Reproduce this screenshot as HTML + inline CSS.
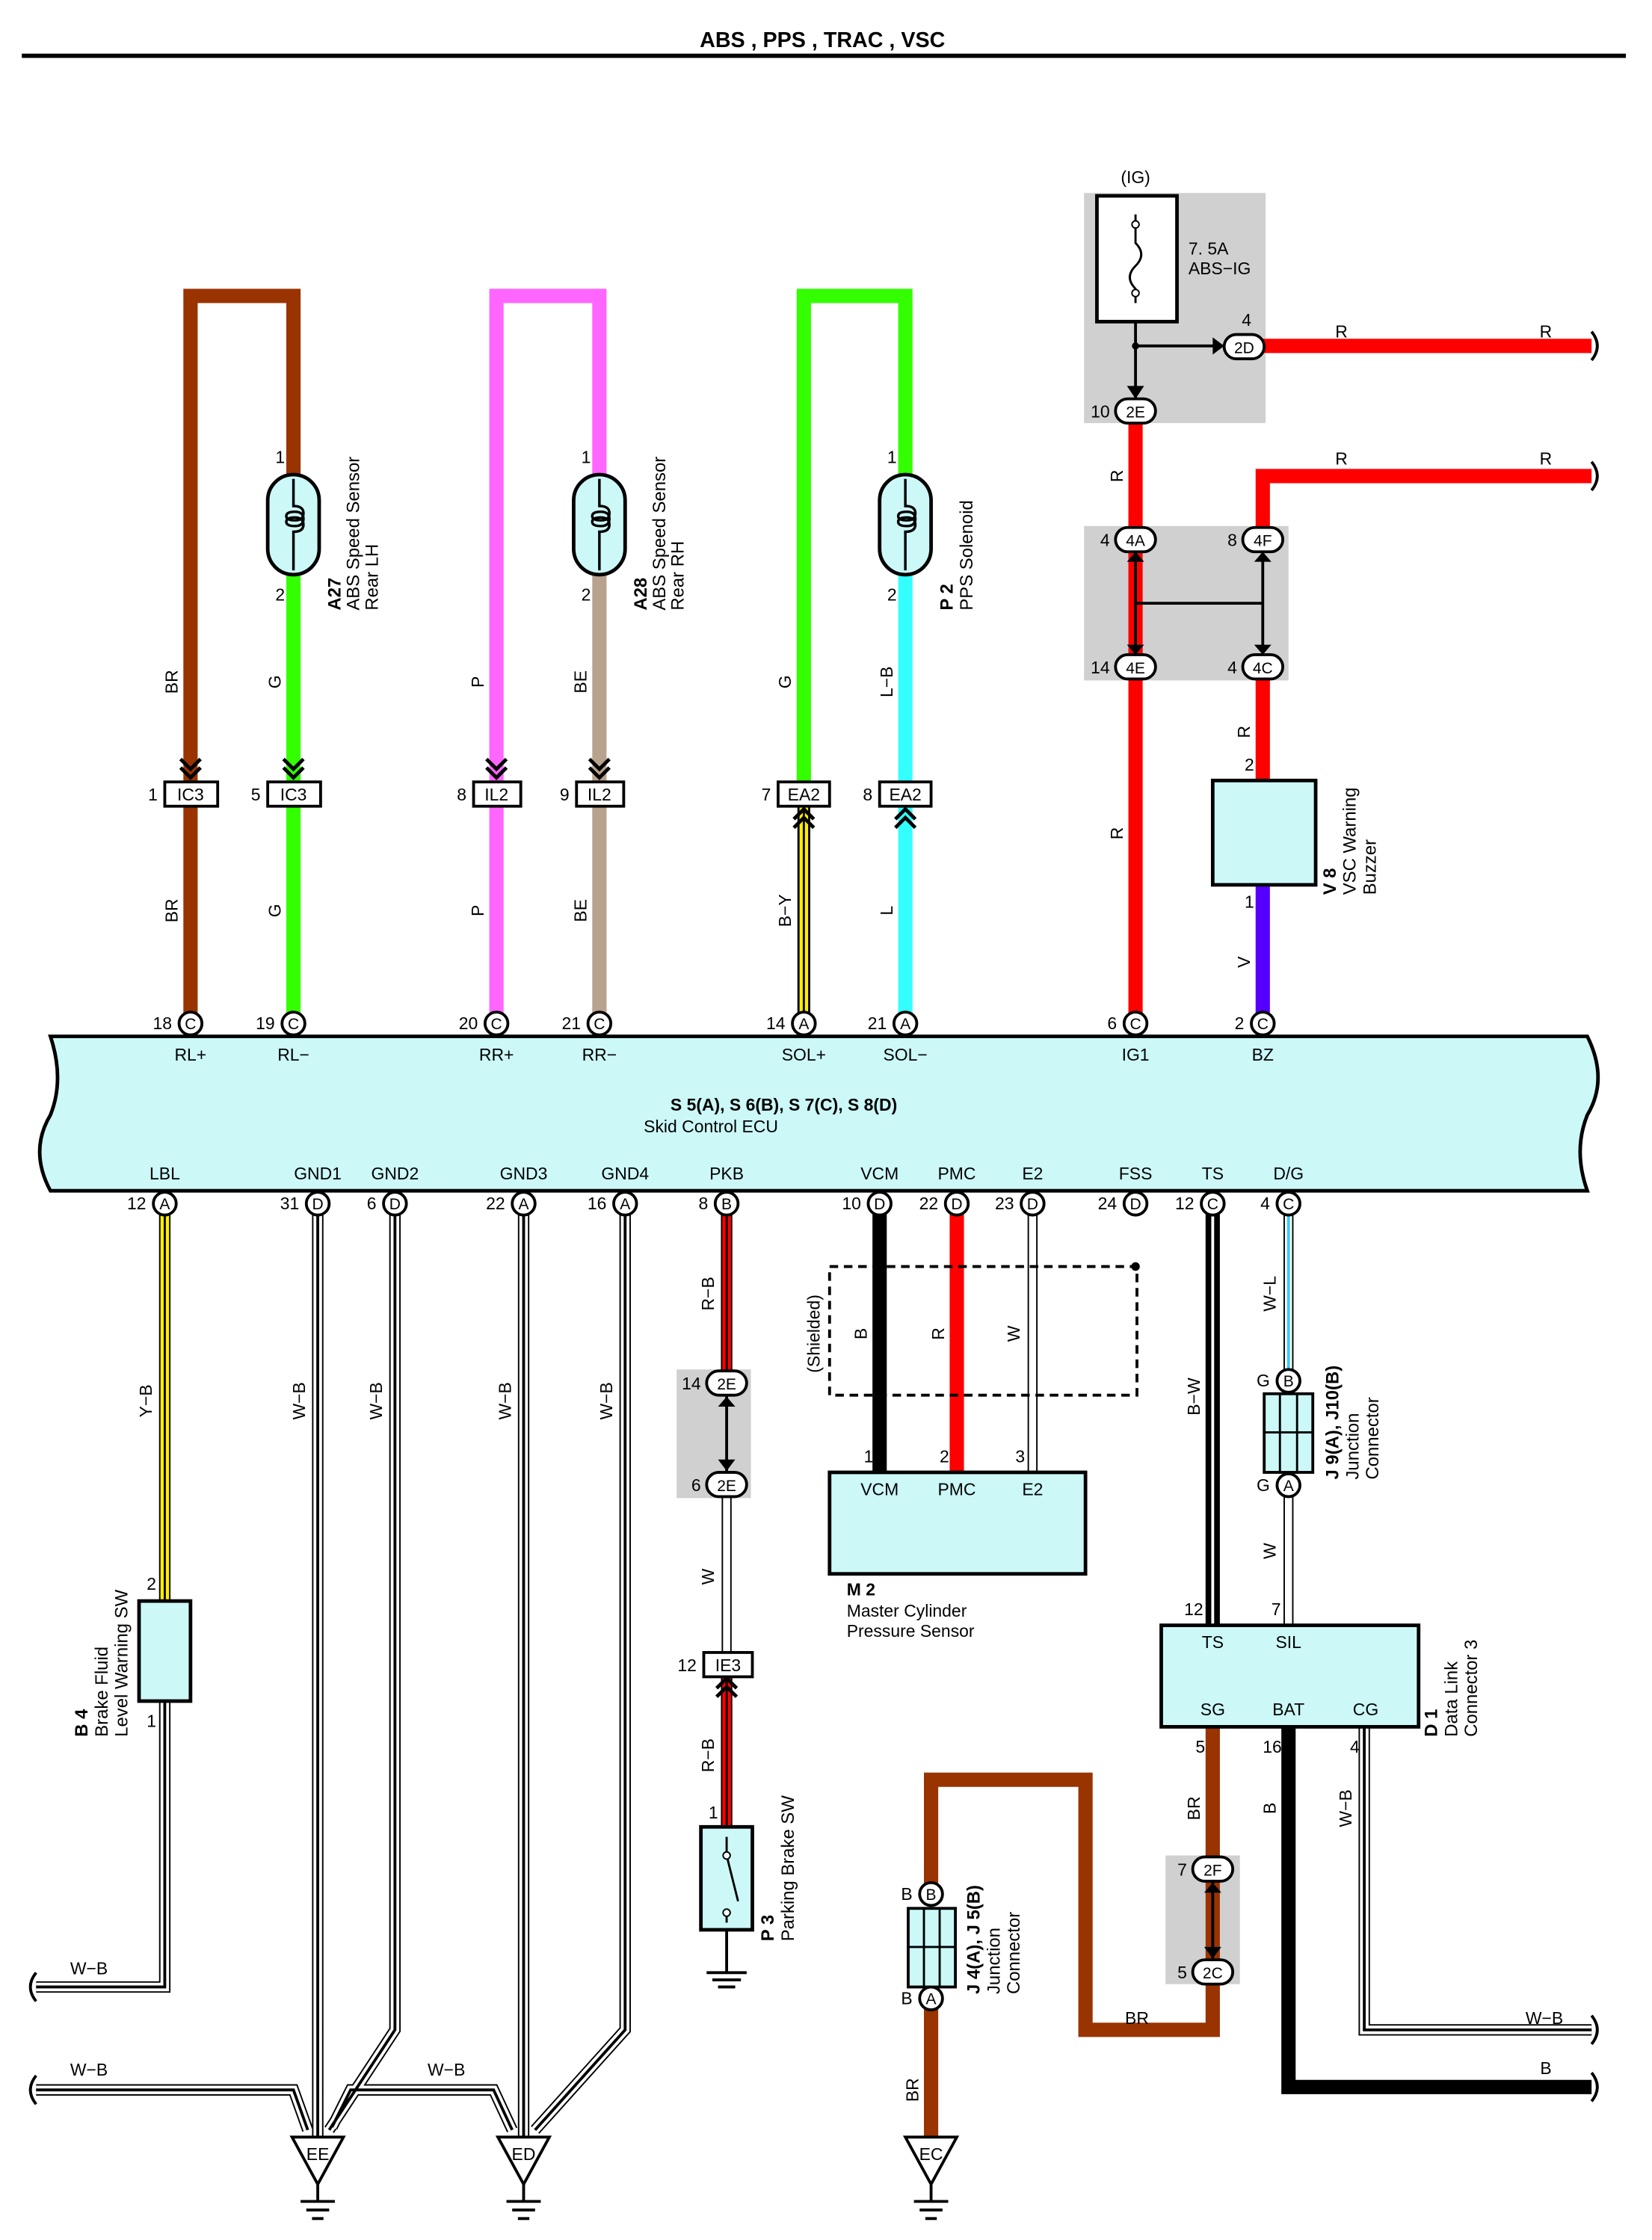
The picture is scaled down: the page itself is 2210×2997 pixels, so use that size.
<!DOCTYPE html>
<html><head><meta charset="utf-8"><style>html,body{margin:0;padding:0;background:#fff}svg{display:block}text{font-family:"Liberation Sans",sans-serif;fill:#000}</style></head>
<body>
<svg width="2210" height="2997" viewBox="0 0 1155 1567" xmlns="http://www.w3.org/2000/svg">
<defs>
<g id="chev"><path d="M-7,-14 L0,-7 L7,-14 M-7,-8 L0,-1 L7,-8" fill="none" stroke="#000" stroke-width="2.5"/></g>
<g id="chevu"><path d="M-7,14 L0,7 L7,14 M-7,8 L0,1 L7,8" fill="none" stroke="#000" stroke-width="2.5"/></g>
<path id="coil" d="M0,-32 V-13 q7,0 7,5 q0,5 -6,5 q-6,0 -6,-3 q0,-3 6,-3 q6,0 6,5 q0,5 -6,5 q-6,0 -6,-3 q0,-3 6,-3 q6,0 6,5 q0,5 -7,5 V32" fill="none" stroke="#000" stroke-width="1.8"/>
</defs>
<text x="575" y="33" font-size="15" font-weight="bold" text-anchor="middle">ABS , PPS , TRAC , VSC</text>
<line x1="15" y1="39" x2="1137" y2="39" stroke="#000" stroke-width="3"/>

<!-- gray boxes -->
<rect x="758" y="135" width="127" height="161" fill="#d0d0d0"/>
<rect x="758" y="368" width="143" height="108" fill="#d0d0d0"/>
<rect x="473" y="958" width="52" height="90" fill="#d0d0d0"/>
<rect x="815" y="1298" width="52" height="90" fill="#d0d0d0"/>

<g fill="none" stroke-linejoin="miter">
<!-- top wires -->
<path d="M133,716 V207 H205 V335" stroke="#993300" stroke-width="10"/>
<path d="M205,400 V716" stroke="#33ff00" stroke-width="10"/>
<path d="M347,716 V207 H419 V335" stroke="#ff66ff" stroke-width="10"/>
<path d="M419,400 V716" stroke="#b8a28e" stroke-width="10"/>
<path d="M562,555 V207 H633 V335" stroke="#33ff00" stroke-width="10"/>
<path d="M633,400 V716" stroke="#33ffff" stroke-width="10"/>
<path d="M562,555 V716" stroke="#000" stroke-width="9"/>
<path d="M562,555 V716" stroke="#ffee00" stroke-width="6"/>
<path d="M562,555 V716" stroke="#000" stroke-width="1.5"/>
<path d="M794,287 V716" stroke="#ff0000" stroke-width="10"/>
<path d="M880,242 H1113" stroke="#ff0000" stroke-width="10"/>
<path d="M883,377 V333 H1113" stroke="#ff0000" stroke-width="10"/>
<path d="M883,466 V546" stroke="#ff0000" stroke-width="10"/>
<path d="M883,619 V716" stroke="#5500ff" stroke-width="10"/>
<path d="M794,225 V242 H855" stroke="#000" stroke-width="2"/>
<path d="M794,242 V280" stroke="#000" stroke-width="2"/>
<path d="M794,390 V455 M883,390 V455 M794,422 H883" stroke="#000" stroke-width="2"/>

<!-- bottom wires: W-B style = black outline, white, black centre -->
<g id="wb">
<path d="M115,1190 V1390 H25 M222,842 V1495 M276,842 V1420 L230,1490 M25,1462 H205 L215,1490 M232,1488 L245,1462 H345 L358,1490 M366,842 V1495 M437,842 V1420 L374,1490 M954,1208 V1420 H1113" stroke="#000" stroke-width="8"/>
<path d="M115,1190 V1390 H25 M222,842 V1495 M276,842 V1420 L230,1490 M25,1462 H205 L215,1490 M232,1488 L245,1462 H345 L358,1490 M366,842 V1495 M437,842 V1420 L374,1490 M954,1208 V1420 H1113" stroke="#fff" stroke-width="6"/>
<path d="M115,1190 V1390 H25 M222,842 V1495 M276,842 V1420 L230,1490 M25,1462 H205 L215,1490 M232,1488 L245,1462 H345 L358,1490 M366,842 V1495 M437,842 V1420 L374,1490 M954,1208 V1420 H1113" stroke="#000" stroke-width="2"/>
</g>
<path d="M115,842 V1120" stroke="#000" stroke-width="8"/><path d="M115,842 V1120" stroke="#ffee00" stroke-width="6"/><path d="M115,842 V1120" stroke="#000" stroke-width="1.5"/>
<path d="M508,842 V967 M508,1164 V1280" stroke="#000" stroke-width="8"/><path d="M508,842 V967 M508,1164 V1280" stroke="#ff0000" stroke-width="6"/><path d="M508,842 V967 M508,1164 V1280" stroke="#000" stroke-width="1.5"/>
<path d="M508,975 V1030" stroke="#000" stroke-width="2"/>
<path d="M508,1038 V1164 M722,842 V1030 M901,1039 V1137" stroke="#000" stroke-width="7"/><path d="M508,1038 V1164 M722,842 V1030 M901,1039 V1137" stroke="#fff" stroke-width="5"/>
<path d="M508,1350 V1380" stroke="#000" stroke-width="2"/>
<path d="M615,842 V1030" stroke="#000" stroke-width="10"/>
<path d="M669,842 V1030" stroke="#ff0000" stroke-width="10"/>
<rect x="580" y="886" width="215" height="90" stroke="#000" stroke-width="2" stroke-dasharray="6,4"/>
<path d="M848,842 V1137" stroke="#000" stroke-width="10"/><path d="M848,842 V1137" stroke="#fff" stroke-width="2"/>
<path d="M901,842 V966" stroke="#000" stroke-width="7"/><path d="M901,842 V966" stroke="#fff" stroke-width="5"/><path d="M901,842 V966" stroke="#33ccff" stroke-width="2"/>
<path d="M848,1208 V1420 H759 V1245 H651 V1325" stroke="#993300" stroke-width="10"/>
<path d="M651,1398 V1495" stroke="#993300" stroke-width="10"/>
<path d="M848,1315 V1370" stroke="#000" stroke-width="2"/>
<path d="M901,1208 V1460 H1113" stroke="#000" stroke-width="10"/>
</g>

<!-- wire end curls -->
<g fill="none" stroke="#000" stroke-width="2">
<path d="M1113,232 q8,10 0,20 M1113,323 q8,10 0,20 M1113,1410 q8,10 0,20 M1113,1450 q8,10 0,20 M25,1380 q-8,10 0,20 M25,1452 q-8,10 0,20"/>
</g>

<!-- ECU -->
<path d="M35,725 H1110 Q1125,755 1110,780 Q1100,805 1110,833 H35 Q20,805 35,780 Q45,755 35,725 Z" fill="#ccf8f8" stroke="#000" stroke-width="2.5"/>
<text x="548" y="777" font-size="12" font-weight="bold" text-anchor="middle">S 5(A), S 6(B), S 7(C), S 8(D)</text>
<text x="450" y="792" font-size="12">Skid Control ECU</text>
<g font-size="12" text-anchor="middle">
<text x="133" y="742">RL+</text><text x="205" y="742">RL−</text><text x="347" y="742">RR+</text><text x="419" y="742">RR−</text>
<text x="562" y="742">SOL+</text><text x="633" y="742">SOL−</text><text x="794" y="742">IG1</text><text x="883" y="742">BZ</text>
<text x="115" y="825">LBL</text><text x="222" y="825">GND1</text><text x="276" y="825">GND2</text><text x="366" y="825">GND3</text><text x="437" y="825">GND4</text>
<text x="508" y="825">PKB</text><text x="615" y="825">VCM</text><text x="669" y="825">PMC</text><text x="722" y="825">E2</text><text x="794" y="825">FSS</text><text x="848" y="825">TS</text><text x="901" y="825">D/G</text>
</g>

<!-- pins -->
<g stroke="#000" stroke-width="2" fill="#fff">
<circle cx="133" cy="716" r="8"/><circle cx="205" cy="716" r="8"/><circle cx="347" cy="716" r="8"/><circle cx="419" cy="716" r="8"/>
<circle cx="562" cy="716" r="8"/><circle cx="633" cy="716" r="8"/><circle cx="794" cy="716" r="8"/><circle cx="883" cy="716" r="8"/>
<circle cx="115" cy="842" r="8"/><circle cx="222" cy="842" r="8"/><circle cx="276" cy="842" r="8"/><circle cx="366" cy="842" r="8"/><circle cx="437" cy="842" r="8"/>
<circle cx="508" cy="842" r="8"/><circle cx="615" cy="842" r="8"/><circle cx="669" cy="842" r="8"/><circle cx="722" cy="842" r="8"/><circle cx="794" cy="842" r="8"/><circle cx="848" cy="842" r="8"/><circle cx="901" cy="842" r="8"/>
<circle cx="901" cy="966" r="8"/><circle cx="901" cy="1039" r="8"/><circle cx="651" cy="1325" r="8"/><circle cx="651" cy="1398" r="8"/>
</g>
<g font-size="11" text-anchor="middle">
<text x="133" y="720">C</text><text x="205" y="720">C</text><text x="347" y="720">C</text><text x="419" y="720">C</text><text x="562" y="720">A</text><text x="633" y="720">A</text><text x="794" y="720">C</text><text x="883" y="720">C</text>
<text x="115" y="846">A</text><text x="222" y="846">D</text><text x="276" y="846">D</text><text x="366" y="846">A</text><text x="437" y="846">A</text><text x="508" y="846">B</text><text x="615" y="846">D</text><text x="669" y="846">D</text><text x="722" y="846">D</text><text x="794" y="846">D</text><text x="848" y="846">C</text><text x="901" y="846">C</text>
<text x="901" y="970">B</text><text x="901" y="1043">A</text><text x="651" y="1329">B</text><text x="651" y="1402">A</text>
</g>
<g font-size="12" text-anchor="end">
<text x="120" y="720">18</text><text x="192" y="720">19</text><text x="334" y="720">20</text><text x="406" y="720">21</text><text x="549" y="720">14</text><text x="620" y="720">21</text><text x="781" y="720">6</text><text x="870" y="720">2</text>
<text x="102" y="846">12</text><text x="209" y="846">31</text><text x="263" y="846">6</text><text x="353" y="846">22</text><text x="424" y="846">16</text><text x="495" y="846">8</text><text x="602" y="846">10</text><text x="656" y="846">22</text><text x="709" y="846">23</text><text x="781" y="846">24</text><text x="835" y="846">12</text><text x="888" y="846">4</text>
<text x="888" y="970">G</text><text x="888" y="1043">G</text><text x="638" y="1329">B</text><text x="638" y="1402">B</text>
</g>

<!-- sensors -->
<g stroke="#000" stroke-width="2.5" fill="#ccf8f8">
<rect x="187" y="332" width="36" height="70" rx="18"/><rect x="401" y="332" width="36" height="70" rx="18"/><rect x="615" y="332" width="36" height="70" rx="18"/>
</g>
<use href="#coil" x="205" y="367"/><use href="#coil" x="419" y="367"/><use href="#coil" x="633" y="367"/>
<g font-size="12" text-anchor="end"><text x="199" y="324">1</text><text x="199" y="420">2</text><text x="413" y="324">1</text><text x="413" y="420">2</text><text x="627" y="324">1</text><text x="627" y="420">2</text></g>
<g font-size="12.5">
<text transform="translate(238,427) rotate(-90)" font-weight="bold">A27</text><text transform="translate(251,427) rotate(-90)">ABS Speed Sensor</text><text transform="translate(264,427) rotate(-90)">Rear LH</text>
<text transform="translate(452,427) rotate(-90)" font-weight="bold">A28</text><text transform="translate(465,427) rotate(-90)">ABS Speed Sensor</text><text transform="translate(478,427) rotate(-90)">Rear RH</text>
<text transform="translate(666,427) rotate(-90)" font-weight="bold">P 2</text><text transform="translate(680,427) rotate(-90)">PPS Solenoid</text>
</g>

<!-- wire color labels -->
<g font-size="12" text-anchor="middle">
<text transform="translate(124,477) rotate(-90)">BR</text><text transform="translate(196,477) rotate(-90)">G</text>
<text transform="translate(338,477) rotate(-90)">P</text><text transform="translate(410,477) rotate(-90)">BE</text>
<text transform="translate(553,477) rotate(-90)">G</text><text transform="translate(624,477) rotate(-90)">L−B</text>
<text transform="translate(124,637) rotate(-90)">BR</text><text transform="translate(196,637) rotate(-90)">G</text>
<text transform="translate(338,637) rotate(-90)">P</text><text transform="translate(410,637) rotate(-90)">BE</text>
<text transform="translate(553,637) rotate(-90)">B−Y</text><text transform="translate(624,637) rotate(-90)">L</text>
<text transform="translate(785,333) rotate(-90)">R</text><text transform="translate(785,583) rotate(-90)">R</text>
<text transform="translate(874,512) rotate(-90)">R</text><text transform="translate(874,673) rotate(-90)">V</text>
<text x="938" y="236">R</text><text x="1081" y="236">R</text><text x="938" y="325">R</text><text x="1081" y="325">R</text>
<text transform="translate(106,980) rotate(-90)">Y−B</text><text transform="translate(213,980) rotate(-90)">W−B</text><text transform="translate(267,980) rotate(-90)">W−B</text><text transform="translate(357,980) rotate(-90)">W−B</text><text transform="translate(428,980) rotate(-90)">W−B</text>
<text transform="translate(499,905) rotate(-90)">R−B</text><text transform="translate(499,1103) rotate(-90)">W</text><text transform="translate(499,1228) rotate(-90)">R−B</text>
<text transform="translate(606,933) rotate(-90)">B</text><text transform="translate(660,933) rotate(-90)">R</text><text transform="translate(713,933) rotate(-90)">W</text>
<text transform="translate(573,933) rotate(-90)">(Shielded)</text>
<text transform="translate(839,977) rotate(-90)">B−W</text><text transform="translate(892,905) rotate(-90)">W−L</text><text transform="translate(892,1085) rotate(-90)">W</text>
<text transform="translate(839,1265) rotate(-90)">BR</text><text transform="translate(892,1265) rotate(-90)">B</text><text transform="translate(945,1265) rotate(-90)">W−B</text>
<text transform="translate(642,1462) rotate(-90)">BR</text><text x="795" y="1416">BR</text>
<text x="62" y="1381">W−B</text><text x="62" y="1452">W−B</text><text x="312" y="1452">W−B</text><text x="1080" y="1416">W−B</text><text x="1081" y="1451">B</text>
</g>

<!-- chevrons & connectors -->
<use href="#chev" x="133" y="545"/><use href="#chev" x="205" y="545"/><use href="#chev" x="347" y="545"/><use href="#chev" x="419" y="545"/>
<use href="#chevu" x="562" y="565"/><use href="#chevu" x="633" y="565"/><use href="#chevu" x="508" y="1173"/>
<g stroke="#000" stroke-width="2" fill="#fff">
<rect x="115" y="547" width="37" height="17"/><rect x="187" y="547" width="37" height="17"/><rect x="331" y="547" width="33" height="17"/><rect x="403" y="547" width="33" height="17"/>
<rect x="544" y="547" width="36" height="17"/><rect x="615" y="547" width="36" height="17"/><rect x="492" y="1156" width="34" height="17"/>
</g>
<g font-size="12" text-anchor="middle">
<text x="133" y="560">IC3</text><text x="205" y="560">IC3</text><text x="347" y="560">IL2</text><text x="419" y="560">IL2</text><text x="562" y="560">EA2</text><text x="633" y="560">EA2</text><text x="509" y="1169">IE3</text>
</g>
<g font-size="12" text-anchor="end"><text x="110" y="560">1</text><text x="182" y="560">5</text><text x="326" y="560">8</text><text x="398" y="560">9</text><text x="539" y="560">7</text><text x="610" y="560">8</text><text x="487" y="1169">12</text></g>

<!-- oval connectors -->
<g stroke="#000" stroke-width="2" fill="#fff">
<rect x="856" y="234" width="28" height="17" rx="8.5"/><rect x="780" y="279" width="28" height="17" rx="8.5"/>
<rect x="780" y="369" width="28" height="17" rx="8.5"/><rect x="869" y="369" width="28" height="17" rx="8.5"/>
<rect x="780" y="458" width="28" height="17" rx="8.5"/><rect x="869" y="458" width="28" height="17" rx="8.5"/>
<rect x="494" y="959" width="28" height="17" rx="8.5"/><rect x="494" y="1030" width="28" height="17" rx="8.5"/>
<rect x="834" y="1299" width="28" height="17" rx="8.5"/><rect x="834" y="1371" width="28" height="17" rx="8.5"/>
</g>
<g font-size="11" text-anchor="middle">
<text x="870" y="247">2D</text><text x="794" y="292">2E</text><text x="794" y="382">4A</text><text x="883" y="382">4F</text><text x="794" y="471">4E</text><text x="883" y="471">4C</text>
<text x="508" y="972">2E</text><text x="508" y="1043">2E</text><text x="848" y="1312">2F</text><text x="848" y="1384">2C</text>
</g>
<g font-size="12" text-anchor="end">
<text x="875" y="228">4</text><text x="776" y="292">10</text><text x="776" y="382">4</text><text x="865" y="382">8</text><text x="776" y="471">14</text><text x="865" y="471">4</text>
<text x="490" y="972">14</text><text x="490" y="1043">6</text><text x="830" y="1312">7</text><text x="830" y="1384">5</text>
</g>
<g fill="#000">
<path d="M788,393 L794,386 L800,393 Z M788,451 L794,458 L800,451 Z M877,393 L883,386 L889,393 Z M877,451 L883,458 L889,451 Z"/>
<path d="M502,984 L508,977 L514,984 Z M502,1021 L508,1029 L514,1021 Z M842,1324 L848,1317 L854,1324 Z M842,1362 L848,1370 L854,1362 Z"/>
<path d="M788,270 L794,279 L800,270 Z M848,236 L856,242 L848,248 Z"/>
<circle cx="794" cy="242" r="2.5"/><circle cx="794" cy="886" r="3"/>
</g>

<!-- fuse -->
<rect x="767" y="137" width="56" height="88" fill="#fff" stroke="#000" stroke-width="2.5"/>
<path d="M794,150 V170 q8,8 0,16 q-8,8 0,16 V212" fill="none" stroke="#000" stroke-width="1.5"/>
<circle cx="794" cy="157" r="2.5" fill="#fff" stroke="#000"/><circle cx="794" cy="205" r="2.5" fill="#fff" stroke="#000"/>
<text x="794" y="128" font-size="12" text-anchor="middle">(IG)</text>
<text x="831" y="178" font-size="12">7. 5A</text><text x="831" y="192" font-size="12">ABS−IG</text>

<!-- buzzer -->
<rect x="848" y="546" width="72" height="73" fill="#ccf8f8" stroke="#000" stroke-width="2.5"/>
<text x="877" y="539" font-size="12" text-anchor="end">2</text><text x="877" y="635" font-size="12" text-anchor="end">1</text>
<g font-size="12.5"><text transform="translate(934,626) rotate(-90)" font-weight="bold">V 8</text>
<text transform="translate(948,626) rotate(-90)">VSC Warning</text>
<text transform="translate(962,626) rotate(-90)">Buzzer</text></g>

<!-- B4 -->
<rect x="97" y="1120" width="36" height="70" fill="#ccf8f8" stroke="#000" stroke-width="2.5"/>
<text x="109" y="1112" font-size="12" text-anchor="end">2</text><text x="109" y="1208" font-size="12" text-anchor="end">1</text>
<g font-size="12.5"><text transform="translate(61,1215) rotate(-90)" font-weight="bold">B 4</text>
<text transform="translate(75,1215) rotate(-90)">Brake Fluid</text>
<text transform="translate(89,1215) rotate(-90)">Level Warning SW</text></g>

<!-- P3 -->
<rect x="490" y="1278" width="36" height="72" fill="#ccf8f8" stroke="#000" stroke-width="2.5"/>
<path d="M508,1285 V1298 L516,1330 M508,1336 V1345" fill="none" stroke="#000" stroke-width="1.5"/>
<circle cx="508" cy="1298" r="2.5" fill="#fff" stroke="#000"/><circle cx="508" cy="1338" r="2.5" fill="#fff" stroke="#000"/>
<text x="502" y="1272" font-size="12" text-anchor="end">1</text>
<g font-size="12.5"><text transform="translate(541,1358) rotate(-90)" font-weight="bold">P 3</text>
<text transform="translate(555,1358) rotate(-90)">Parking Brake SW</text></g>
<path d="M494,1380 H522 M498,1385 H518 M502,1390 H514" stroke="#000" stroke-width="2"/>

<!-- M2 -->
<rect x="580" y="1030" width="179" height="71" fill="#ccf8f8" stroke="#000" stroke-width="2.5"/>
<g font-size="12"><text x="604" y="1023">1</text><text x="657" y="1023">2</text><text x="710" y="1023">3</text>
<text x="615" y="1046" text-anchor="middle">VCM</text><text x="669" y="1046" text-anchor="middle">PMC</text><text x="722" y="1046" text-anchor="middle">E2</text>
<text x="592" y="1116" font-weight="bold">M 2</text><text x="592" y="1131">Master Cylinder</text><text x="592" y="1145">Pressure Sensor</text></g>

<!-- D1 -->
<rect x="812" y="1137" width="180" height="71" fill="#ccf8f8" stroke="#000" stroke-width="2.5"/>
<g font-size="12"><text x="828" y="1130">12</text><text x="889" y="1130">7</text><text x="836" y="1226">5</text><text x="883" y="1226">16</text><text x="944" y="1226">4</text>
<text x="848" y="1153" text-anchor="middle">TS</text><text x="901" y="1153" text-anchor="middle">SIL</text>
<text x="848" y="1200" text-anchor="middle">SG</text><text x="901" y="1200" text-anchor="middle">BAT</text><text x="955" y="1200" text-anchor="middle">CG</text></g>
<g font-size="12.5"><text transform="translate(1005,1215) rotate(-90)" font-weight="bold">D 1</text>
<text transform="translate(1019,1215) rotate(-90)">Data Link</text>
<text transform="translate(1033,1215) rotate(-90)">Connector 3</text></g>

<!-- J9 / J4 junction -->
<g stroke="#000" stroke-width="2" fill="#ccf8f8">
<rect x="884" y="975" width="34" height="55"/><rect x="635" y="1335" width="33" height="55"/>
</g>
<path d="M895,975 V1030 M907,975 V1030 M884,1002 H918 M646,1335 V1390 M657,1335 V1390 M635,1362 H668" stroke="#000" stroke-width="1.5"/>
<g font-size="12.5">
<text transform="translate(936,1035) rotate(-90)" font-weight="bold">J 9(A), J10(B)</text>
<text transform="translate(950,1035) rotate(-90)">Junction</text><text transform="translate(964,1035) rotate(-90)">Connector</text>
<text transform="translate(685,1395) rotate(-90)" font-weight="bold">J 4(A), J 5(B)</text>
<text transform="translate(699,1395) rotate(-90)">Junction</text><text transform="translate(713,1395) rotate(-90)">Connector</text>
</g>

<!-- grounds -->
<g stroke="#000" stroke-width="2" fill="#fff">
<path d="M204,1495 H240 L222,1528 Z"/><path d="M348,1495 H384 L366,1528 Z"/><path d="M633,1495 H669 L651,1528 Z"/>
<path d="M222,1528 V1540 M210,1540 H234 M214,1546 H230 M218,1552 H226 M366,1528 V1540 M354,1540 H378 M358,1546 H374 M362,1552 H370 M651,1528 V1540 M639,1540 H663 M643,1546 H659 M647,1552 H655" fill="none"/>
</g>
<g font-size="12" text-anchor="middle"><text x="222" y="1511">EE</text><text x="366" y="1511">ED</text><text x="651" y="1511">EC</text></g>
</svg>
</body></html>
